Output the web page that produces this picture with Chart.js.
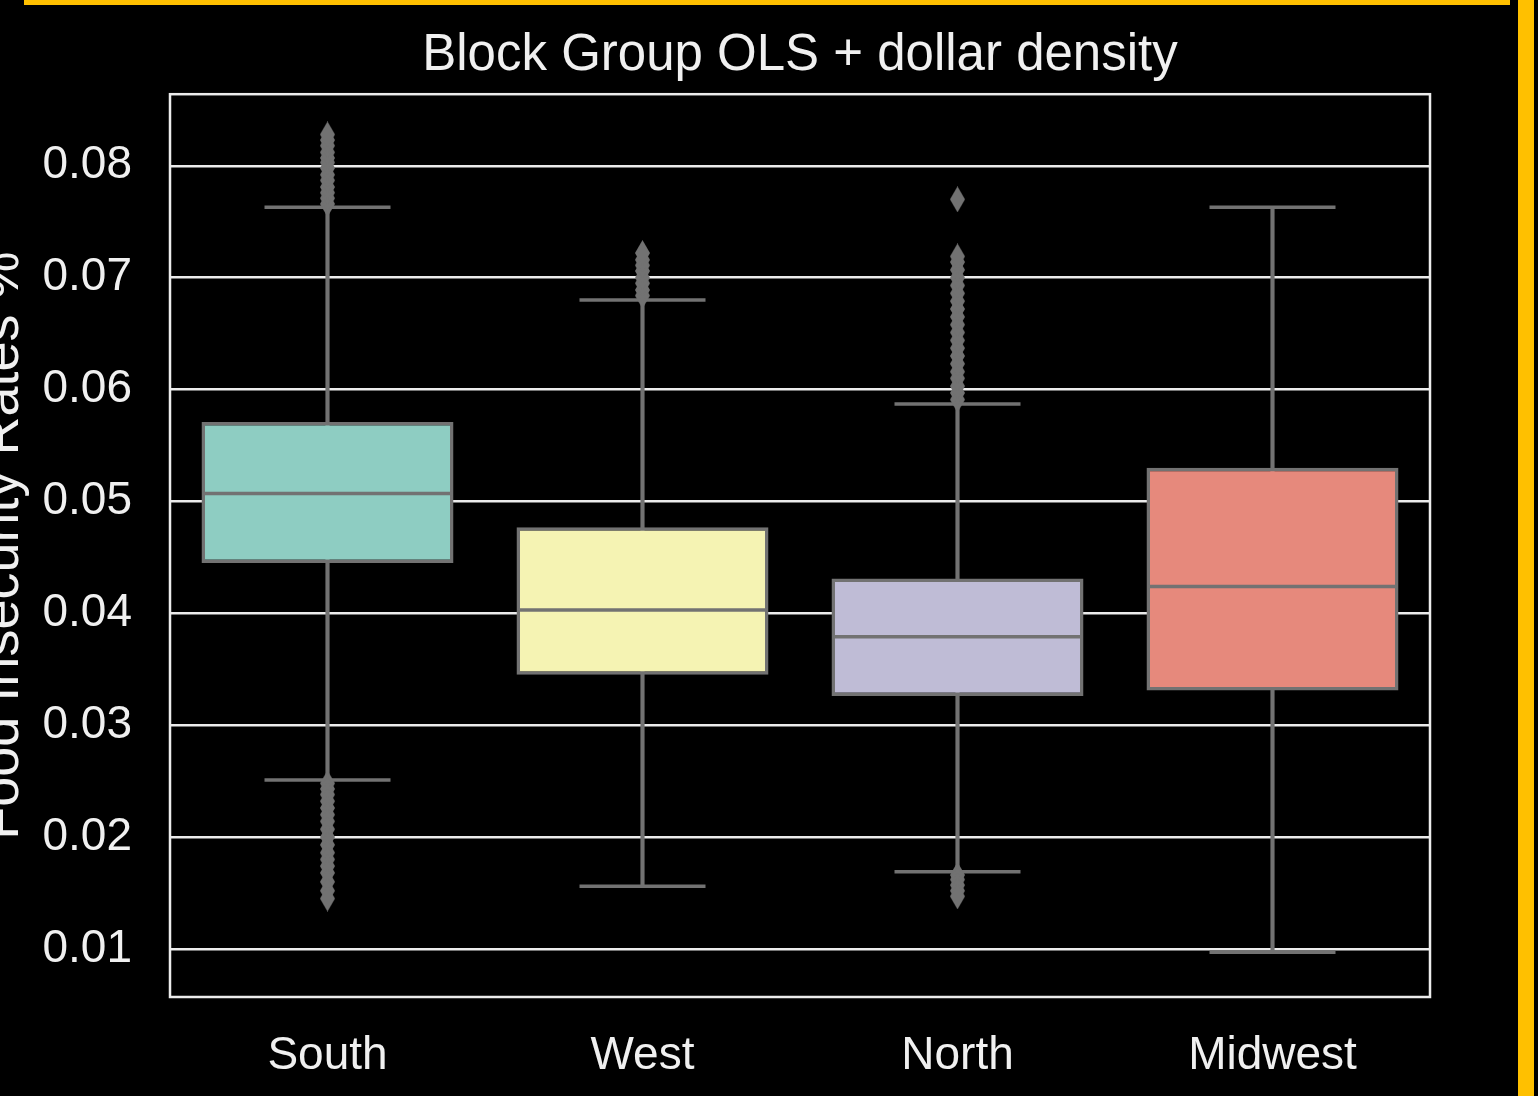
<!DOCTYPE html>
<html>
<head>
<meta charset="utf-8">
<script src="https://cdn.jsdelivr.net/npm/chart.js@4.4.1/dist/chart.umd.min.js"></script>
<style>
  html, body { margin: 0; padding: 0; background: #000; overflow: hidden; }
  body { width: 1538px; height: 1096px; position: relative; }
  #wrap { position: absolute; left: -40px; top: 0; width: 1578px; height: 1096px; }
  .bar { position: absolute; background: #ffc000; }
</style>
</head>
<body>
<div class="bar" style="left:24px; top:0; width:1486px; height:5px;"></div>
<div class="bar" style="left:1518px; top:0; width:16px; height:1096px;"></div>
<div id="wrap"><canvas id="chart"></canvas></div>
<script>
// values
const categories = ['South', 'West', 'North', 'Midwest'];
const q1 = [0.0445, 0.0345, 0.0326, 0.0331];
const q3 = [0.0571, 0.0477, 0.0431, 0.0530];
const medians = [0.0507, 0.0403, 0.0379, 0.0424];
const whiskerLow = [0.0251, 0.0156, 0.0169, 0.0097];
const whiskerHigh = [0.0763, 0.0680, 0.0587, 0.0763];

const outliersSouth = [0.0766, 0.0771, 0.0776, 0.0781, 0.0787, 0.0792, 0.0798, 0.0803, 0.0807, 0.0812, 0.0818, 0.0823, 0.0828,
  0.0248, 0.0243, 0.0238, 0.0232, 0.0226, 0.0220, 0.0214, 0.0207, 0.0200, 0.0193, 0.0186, 0.0180, 0.0174,
  0.0168, 0.0160, 0.0152, 0.0145];
const outliersWest = [0.0684, 0.0689, 0.0695, 0.0700, 0.0706, 0.0711, 0.0716, 0.0722];
const outliersNorth = [0.0591, 0.0597, 0.0603, 0.0610, 0.0616, 0.0623, 0.0630, 0.0637, 0.0644, 0.0651, 0.0658,
  0.0665, 0.0672, 0.0679, 0.0686, 0.0693, 0.0700, 0.0707, 0.0714, 0.0719, 0.0770,
  0.0166, 0.0162, 0.0157, 0.0152, 0.0147];
const outliersMidwest = [];

const yTicks = [0.01, 0.02, 0.03, 0.04, 0.05, 0.06, 0.07, 0.08];

const boxColors = ['#8ecdc2', '#f5f3b3', '#bfbcd6', '#e6897c'];
const lineGray = '#727272';
const font = "'Liberation Sans', Arial, sans-serif";

// box width in pixels, same as barPercentage below
function boxWidth(chart) {
    const a = chart.chartArea;
    return a ? a.width / categories.length * 0.8 : 0;
}

// thin diamond used for the fliers
function diamond(w, h, color) {
    const c = document.createElement('canvas');
    c.width = w;
    c.height = h;
    const g = c.getContext('2d');
    g.fillStyle = color;
    g.beginPath();
    g.moveTo(w / 2, 0);
    g.lineTo(w, h / 2);
    g.lineTo(w / 2, h);
    g.lineTo(0, h / 2);
    g.closePath();
    g.fill();
    return c;
}

const outlierPoints = [];
[outliersSouth, outliersWest, outliersNorth, outliersMidwest].forEach((list, i) => {
    list.forEach(v => outlierPoints.push({ x: categories[i], y: v }));
});

// white frame round the plot area
const framePlugin = {
    id: 'frame',
    beforeDatasetsDraw(chart) {
        const { ctx, chartArea } = chart;
        ctx.save();
        ctx.strokeStyle = '#ececec';
        ctx.lineWidth = 2.5;
        ctx.strokeRect(chartArea.left, chartArea.top, chartArea.width, chartArea.height);
        ctx.restore();
    }
};

document.addEventListener('DOMContentLoaded', () => {
    const ctx = document.getElementById('chart').getContext('2d');
    new Chart(ctx, {
        type: 'bar',
        data: {
            labels: categories,
            datasets: [
                {
                    // whisker stems
                    type: 'bar',
                    data: whiskerLow.map((v, i) => [v, whiskerHigh[i]]),
                    backgroundColor: lineGray,
                    borderWidth: 0,
                    barThickness: 3.5,
                    grouped: false,
                    order: 4
                },
                {
                    // boxes
                    type: 'bar',
                    data: q1.map((v, i) => [v, q3[i]]),
                    backgroundColor: boxColors,
                    borderColor: lineGray,
                    borderWidth: 3.5,
                    borderSkipped: false,
                    barPercentage: 0.8,
                    categoryPercentage: 1.0,
                    grouped: false,
                    order: 3
                },
                {
                    // medians
                    type: 'line',
                    data: medians,
                    showLine: false,
                    pointStyle: 'line',
                    pointRadius: c => boxWidth(c.chart) / 2 - 1.5,
                    pointBorderWidth: 3.5,
                    pointBorderColor: lineGray,
                    order: 1
                },
                {
                    // top caps
                    type: 'line',
                    data: whiskerHigh,
                    showLine: false,
                    pointStyle: 'line',
                    pointRadius: c => boxWidth(c.chart) / 4,
                    pointBorderWidth: 3.5,
                    pointBorderColor: lineGray,
                    order: 2
                },
                {
                    // bottom caps
                    type: 'line',
                    data: whiskerLow,
                    showLine: false,
                    pointStyle: 'line',
                    pointRadius: c => boxWidth(c.chart) / 4,
                    pointBorderWidth: 3.5,
                    pointBorderColor: lineGray,
                    order: 2
                },
                {
                    // fliers
                    type: 'line',
                    data: outlierPoints,
                    showLine: false,
                    pointStyle: diamond(15, 26, lineGray),
                    pointRadius: 8,
                    order: 0
                }
            ]
        },
        options: {
            responsive: true,
            maintainAspectRatio: false,
            animation: false,
            events: [],
            layout: {
                autoPadding: false,
                padding: { left: 0, right: 108, top: 0, bottom: 0 }
            },
            plugins: {
                legend: { display: false },
                tooltip: { enabled: false },
                title: {
                    display: true,
                    text: 'Block Group OLS + dollar density',
                    color: '#f0f0f0',
                    fullSize: false,
                    font: { family: font, size: 51, weight: 'normal' },
                    padding: { top: 25, bottom: 8 }
                }
            },
            scales: {
                x: {
                    grid: { display: false },
                    border: { display: false },
                    ticks: {
                        color: '#f0f0f0',
                        padding: 24,
                        font: { family: font, size: 46 }
                    },
                    afterFit: s => { s.height = 99; }
                },
                y: {
                    min: 0.0057,
                    max: 0.0864,
                    afterBuildTicks: s => { s.ticks = yTicks.map(v => ({ value: v })); },
                    afterFit: s => { s.width = 210; },
                    grid: {
                        color: '#ececec',
                        lineWidth: 2.5,
                        drawTicks: false
                    },
                    border: { display: false },
                    ticks: {
                        color: '#f0f0f0',
                        padding: 38,
                        font: { family: font, size: 46 }
                    ,
                        callback: v => v.toFixed(2)
                    },
                    title: {
                        display: true,
                        text: 'Food Insecurity Rates %',
                        color: '#f0f0f0',
                        font: { family: font, size: 54 },
                        padding: { top: 11, bottom: 0 }
                    }
                }
            }
        },
        plugins: [framePlugin]
    });
});
</script>
</body>
</html>
